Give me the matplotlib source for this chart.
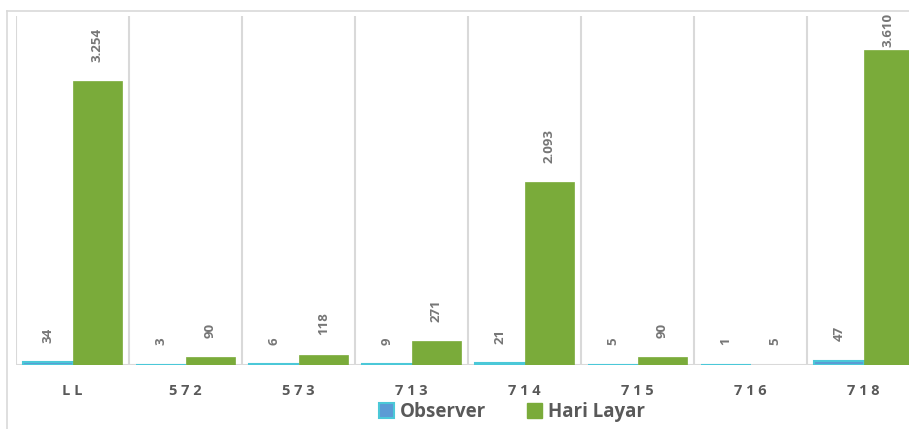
import matplotlib
matplotlib.use("Agg")
import matplotlib.pyplot as plt
from matplotlib.patches import Patch
from matplotlib.lines import Line2D
import numpy as np

categories = ["LL", "572", "573", "713", "714", "715", "716", "718"]
observer = [34, 3, 6, 9, 21, 5, 1, 47]
hari_layar = [3254, 90, 118, 271, 2093, 90, 5, 3610]
series_names = ["Observer", "Hari Layar"]

W, H = 909, 429
fig = plt.figure(figsize=(W / 100, H / 100), dpi=100)
plt.rcParams['font.family'] = ['Open Sans', 'DejaVu Sans']

# outer chart frame
fig.add_artist(Line2D([7 / W, 7 / W], [0, 1 - 11 / H], color="#d9d9d9", lw=1.2))
fig.add_artist(Line2D([7 / W, 1], [1 - 11 / H, 1 - 11 / H], color="#d9d9d9", lw=1.2))

left, right, top, bottom = 16, 920, 16, 365
ax = fig.add_axes([left / W, 1 - bottom / H, (right - left) / W, (bottom - top) / H])

x = np.arange(len(categories))
bw = 0.438
blue = "#5b9bd5"
cyan = "#4bc8d8"
green = "#7aab3a"
ax.bar(x - bw / 2, observer, bw, color=blue, edgecolor=cyan, linewidth=1.5, zorder=5)
ax.bar(x + bw / 2, hari_layar, bw, color=green, edgecolor=green, linewidth=0.5, zorder=5)

ymax = 4000
ax.set_xlim(-0.5, len(categories) - 0.5)
ax.set_ylim(0, ymax)

def fmt(v):
    return f"{v:,}".replace(",", ".")

lab_kw = dict(rotation=90, color="#767676", fontsize=9.5, fontweight="bold", ha="center")
for xi, v in zip(x - bw / 2, observer):
    ax.annotate(fmt(v), (xi, v), xytext=(0, 14), textcoords="offset points", va="bottom", **lab_kw)
for xi, v in zip(x + bw / 2, hari_layar):
    if v > ymax * 0.85:
        ax.annotate(fmt(v), (xi, ymax), xytext=(0, 2), textcoords="offset points", va="top",
                    zorder=6, **lab_kw)
    else:
        ax.annotate(fmt(v), (xi, v), xytext=(0, 14), textcoords="offset points", va="bottom", **lab_kw)

# vertical category gridlines
for b in np.arange(len(categories) + 1) - 0.5:
    ax.axvline(b, color="#d9d9d9", lw=1.5, zorder=1)
ax.axhline(0, color="#d9d9d9", lw=1.5, zorder=2)

for s in ax.spines.values():
    s.set_visible(False)
ax.set_xticks([])
ax.set_yticks([])

for xi, c in zip(x, categories):
    ax.annotate(" ".join(c), (xi, 0), xytext=(0, -19), textcoords="offset points",
                ha="center", va="center", fontsize=10.5, fontweight="bold", color="#595959")

handles = [Patch(facecolor=blue, edgecolor=cyan, linewidth=1.5),
           Patch(facecolor=green, edgecolor=green)]
fig.legend(handles, series_names, loc="center", bbox_to_anchor=(512 / W, 1 - 412 / H),
           ncol=2, frameon=False, handlelength=0.8, handleheight=0.8, handletextpad=0.3,
           columnspacing=2.2, prop=dict(family="Open Sans", weight="bold", size=13.5),
           labelcolor="#595959")

fig.savefig("out.png", dpi=100)
